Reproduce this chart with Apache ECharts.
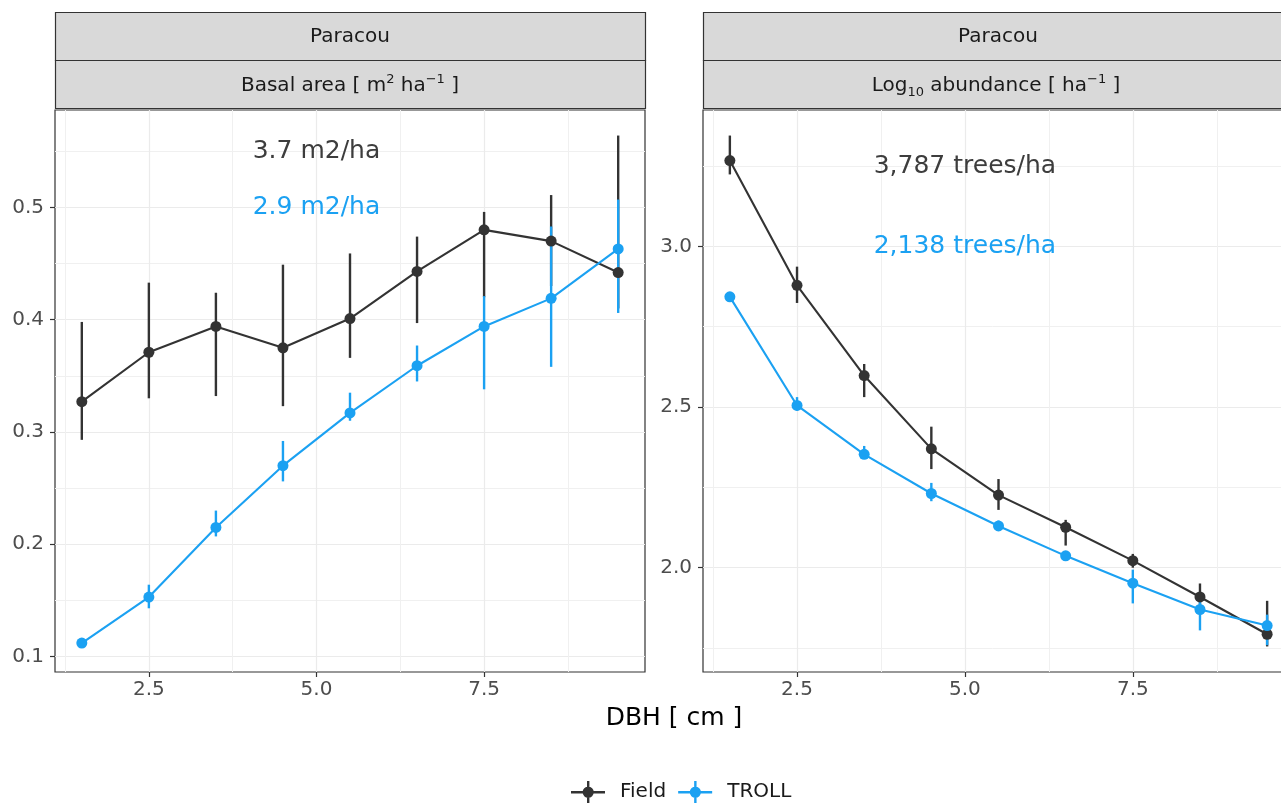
<!DOCTYPE html>
<html>
<head>
<meta charset="utf-8">
<script src="https://cdn.jsdelivr.net/npm/echarts@6/dist/echarts.min.js"></script>
<style>
  html, body { margin: 0; padding: 0; background: #fff; }
  #chart { width: 1281px; height: 806px; }
</style>
</head>
<body>
<div id="chart"></div>
<script>
// DBH class midpoints (cm)
const dbh = [1.5, 2.5, 3.5, 4.5, 5.5, 6.5, 7.5, 8.5, 9.5];
const xTicks = [2.5, 5.0, 7.5];

// Basal area [m2/ha]
const basalField = [0.327, 0.371, 0.394, 0.375, 0.401, 0.443, 0.480, 0.470, 0.442];
const basalFieldLo = [0.293, 0.330, 0.332, 0.323, 0.366, 0.397, 0.420, 0.430, 0.410];
const basalFieldHi = [0.398, 0.433, 0.424, 0.449, 0.459, 0.474, 0.496, 0.511, 0.564];
const basalTroll = [0.112, 0.153, 0.215, 0.270, 0.317, 0.359, 0.394, 0.419, 0.463];
const basalTrollLo = [0.109, 0.143, 0.207, 0.256, 0.310, 0.345, 0.338, 0.358, 0.406];
const basalTrollHi = [0.115, 0.164, 0.230, 0.292, 0.335, 0.377, 0.421, 0.483, 0.507];
const basalTicks = [0.1, 0.2, 0.3, 0.4, 0.5];

// Log10 abundance [1/ha]
const abundField = [3.267, 2.879, 2.598, 2.370, 2.226, 2.126, 2.022, 1.909, 1.793];
const abundFieldLo = [3.224, 2.824, 2.531, 2.307, 2.180, 2.069, 2.000, 1.879, 1.755];
const abundFieldHi = [3.345, 2.937, 2.634, 2.439, 2.276, 2.149, 2.043, 1.951, 1.897];
const abundTroll = [2.843, 2.505, 2.353, 2.231, 2.130, 2.037, 1.952, 1.870, 1.820];
const abundTrollLo = [2.830, 2.489, 2.339, 2.207, 2.118, 2.025, 1.889, 1.805, 1.759];
const abundTrollHi = [2.856, 2.531, 2.379, 2.264, 2.147, 2.052, 1.994, 1.908, 1.854];
const abundTicks = [2.0, 2.5, 3.0];

// totals written in the panels: [x, y, text]
const basalNotes = [[5.0, 0.55, "3.7 m2/ha"], [5.0, 0.50, "2.9 m2/ha"]];
const abundNotes = [[5.0, 3.25, "3,787 trees/ha"], [5.0, 3.0, "2,138 trees/ha"]];

const FIELD = "#333333";
const TROLL = "#1ba1f2";
const FONT = "DejaVu Sans";

// ggplot-like 5% expansion
function expand(lo, hi) {
  const min = Math.min(...lo), max = Math.max(...hi);
  const pad = (max - min) * 0.05;
  return [min - pad, max + pad];
}
const xRange = [dbh[0] - (dbh[8] - dbh[0]) * 0.05, dbh[8] + (dbh[8] - dbh[0]) * 0.05];
const basalRange = expand(basalTrollLo.concat(basalFieldLo), basalTrollHi.concat(basalFieldHi));
const abundRange = expand(abundTrollLo.concat(abundFieldLo), abundTrollHi.concat(abundFieldHi));

const zip = (a, b) => a.map((v, i) => [v, b[i]]);
const zip3 = (a, b, c) => a.map((v, i) => [v, b[i], c[i]]);

function xAxis(gridIndex) {
  return {
    type: "value", gridIndex, min: xRange[0], max: xRange[1],
    minInterval: 2.5, maxInterval: 2.5,
    axisLine: { show: false },
    axisTick: { show: true, length: 5, customValues: xTicks, lineStyle: { color: "#333333", width: 1.2 } },
    axisLabel: { customValues: xTicks, margin: 8, fontSize: 20, fontFamily: FONT, color: "#4d4d4d",
      formatter: (v) => v.toFixed(1) },
    splitLine: { show: true, lineStyle: { color: "#ebebeb", width: 1.2 } },
    minorTick: { show: false, splitNumber: 2 },
    minorSplitLine: { show: true, lineStyle: { color: "#f0f0f0", width: 1 } },
  };
}
function yAxis(gridIndex, range, step, ticks) {
  return {
    type: "value", gridIndex, min: range[0], max: range[1],
    minInterval: step, maxInterval: step,
    axisLine: { show: false },
    axisTick: { show: true, length: 5, customValues: ticks, lineStyle: { color: "#333333", width: 1.2 } },
    axisLabel: { customValues: ticks, margin: 11, fontSize: 20, fontFamily: FONT, color: "#4d4d4d",
      formatter: (v) => v.toFixed(1) },
    splitLine: { show: true, lineStyle: { color: "#ebebeb", width: 1.2 } },
    minorTick: { show: false, splitNumber: 2 },
    minorSplitLine: { show: true, lineStyle: { color: "#f0f0f0", width: 1 } },
  };
}

function errorBars(name, color, idx, lo, hi) {
  return {
    type: "custom", name, xAxisIndex: idx, yAxisIndex: idx, z: 3, silent: true,
    itemStyle: { color },
    data: zip3(dbh, lo, hi),
    renderItem(params, api) {
      const a = api.coord([api.value(0), api.value(1)]);
      const b = api.coord([api.value(0), api.value(2)]);
      return { type: "line", shape: { x1: a[0], y1: a[1], x2: b[0], y2: b[1] },
        style: { stroke: color, lineWidth: 2.4 } };
    },
  };
}
function line(name, color, idx, ys) {
  return { type: "line", name, xAxisIndex: idx, yAxisIndex: idx, z: 2, silent: true,
    data: zip(dbh, ys), showSymbol: false, symbol: "none",
    itemStyle: { color }, lineStyle: { color, width: 2.1 } };
}
function points(name, color, idx, ys) {
  return { type: "scatter", name, xAxisIndex: idx, yAxisIndex: idx, z: 4, silent: true,
    data: zip(dbh, ys), symbol: "circle", symbolSize: 11, itemStyle: { color, opacity: 1 } };
}
function notes(idx, list) {
  return { type: "scatter", xAxisIndex: idx, yAxisIndex: idx, z: 5, silent: true,
    symbolSize: 0, itemStyle: { opacity: 1 },
    data: list.map((n, i) => ({ value: [n[0], n[1]], text: n[2],
      label: { color: i === 0 ? "#3d3d3d" : TROLL } })),
    label: { show: true, position: "inside", fontSize: 25, fontFamily: FONT, opacity: 1,
      formatter: (p) => p.data.text } };
}

function strip(x, w, y, h) {
  return { type: "rect", shape: { x: x + 0.5, y: y + 0.5, width: w, height: h },
    style: { fill: "#d9d9d9", stroke: "#333333", lineWidth: 1.2 }, silent: true };
}
const rich = {
  n: { fontSize: 20, fontFamily: FONT, color: "#1a1a1a", lineHeight: 26 },
  sup: { fontSize: 13, fontFamily: FONT, color: "#1a1a1a", verticalAlign: "top", lineHeight: 26 },
  sub: { fontSize: 13, fontFamily: FONT, color: "#1a1a1a", verticalAlign: "bottom", lineHeight: 26 },
};
function stripText(x, y, text) {
  return { type: "text", x, y, silent: true,
    style: { text, rich, align: "center", verticalAlign: "middle", fontSize: 20, fontFamily: FONT, fill: "#1a1a1a" } };
}

const legendIcon = "path://M0,10L34,10L34,12.4L0,12.4Z M16,0L18.4,0L18.4,22L16,22Z M17.2,5.6A5.6,5.6,0,1,1,17.19,5.6Z";

const gridStyle = { show: true, borderColor: "#333333", borderWidth: 1.2, backgroundColor: "#fff", outerBoundsMode: "none" };

const option = {
  animation: false,
  backgroundColor: "#ffffff",
  grid: [
    Object.assign({ left: 55, top: 110, width: 590, height: 562 }, gridStyle),
    Object.assign({ left: 703, top: 110, width: 591, height: 562 }, gridStyle),
  ],
  xAxis: [xAxis(0), xAxis(1)],
  yAxis: [yAxis(0, basalRange, 0.1, basalTicks), yAxis(1, abundRange, 0.5, abundTicks)],
  legend: {
    left: 566, top: 776, itemWidth: 34, itemHeight: 22, itemGap: 12,
    textStyle: { fontSize: 20, fontFamily: FONT, color: "#1a1a1a", padding: [0, 0, 0, 10] },
    data: [
      { name: "Field", icon: legendIcon, itemStyle: { color: FIELD } },
      { name: "TROLL", icon: legendIcon, itemStyle: { color: TROLL } },
    ],
  },
  graphic: [
    strip(55, 590, 12, 48), strip(55, 590, 60, 48),
    strip(703, 591, 12, 48), strip(703, 591, 60, 48),
    stripText(350, 37, "{n|Paracou}"),
    stripText(350, 86, "{n|Basal area [ m}{sup|2}{n| ha}{sup|−1}{n| ]}"),
    stripText(998, 37, "{n|Paracou}"),
    stripText(996, 86, "{n|Log}{sub|10}{n| abundance [ ha}{sup|−1}{n| ]}"),
    { type: "text", x: 674, y: 718, silent: true,
      style: { text: "DBH [ cm ]", align: "center", verticalAlign: "middle", fontSize: 25, fontFamily: FONT, fill: "#000" } },
  ],
  series: [
    line("Field", FIELD, 0, basalField),
    line("TROLL", TROLL, 0, basalTroll),
    errorBars("Field", FIELD, 0, basalFieldLo, basalFieldHi),
    errorBars("TROLL", TROLL, 0, basalTrollLo, basalTrollHi),
    points("Field", FIELD, 0, basalField),
    points("TROLL", TROLL, 0, basalTroll),
    notes(0, basalNotes),
    line("Field", FIELD, 1, abundField),
    line("TROLL", TROLL, 1, abundTroll),
    errorBars("Field", FIELD, 1, abundFieldLo, abundFieldHi),
    errorBars("TROLL", TROLL, 1, abundTrollLo, abundTrollHi),
    points("Field", FIELD, 1, abundField),
    points("TROLL", TROLL, 1, abundTroll),
    notes(1, abundNotes),
  ],
};

const chart = echarts.init(document.getElementById("chart"), null, { renderer: "canvas" });
chart.setOption(option);
</script>
</body>
</html>
